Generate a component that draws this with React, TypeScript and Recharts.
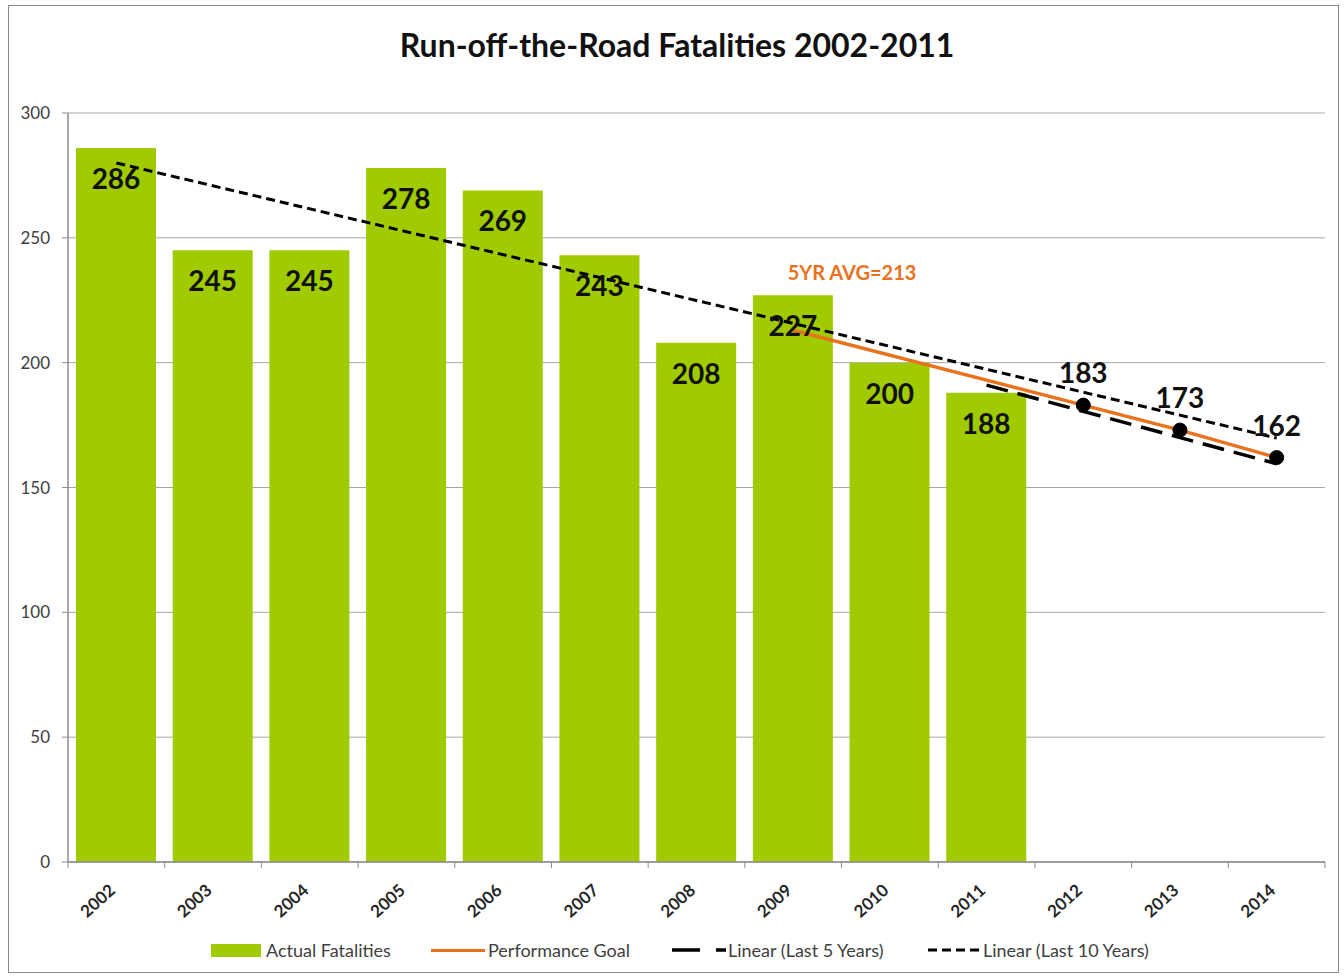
import React from 'react';
import { ComposedChart, Bar, Line, XAxis, YAxis, CartesianGrid, Legend, LabelList } from 'recharts';

const years = ['2002', '2003', '2004', '2005', '2006', '2007', '2008', '2009', '2010', '2011', '2012', '2013', '2014'];
const actualFatalities = [286, 245, 245, 278, 269, 243, 208, 227, 200, 188, null, null, null];
const performanceGoal = [null, null, null, null, null, null, null, 213, null, null, 183, 173, 162];
const goalMarkers = [null, null, null, null, null, null, null, null, null, null, 183, 173, 162];
const linearLast5 = [null, null, null, null, null, null, null, null, null, 191, 180.5, 170, 159.5];
const linearLast10 = [280, null, null, null, null, null, null, null, null, null, null, null, 169.8];
const yTicks = [0, 50, 100, 150, 200, 250, 300];

const data = years.map((year, i) => ({
  year,
  actual: actualFatalities[i],
  goal: performanceGoal[i],
  marker: goalMarkers[i],
  lin5: linearLast5[i],
  lin10: linearLast10[i],
}));

const W = 1344;
const H = 977;
const MARGIN = { top: 113, right: 19, left: 28, bottom: 12 };
const Y_AXIS_W = 40;
const PLOT_W = W - MARGIN.left - Y_AXIS_W - MARGIN.right;
const BAND = PLOT_W / years.length;
const FONT = 'Lato, "Open Sans", sans-serif';
const GREEN = '#9FCB00';
const ORANGE = '#E8731E';

const XTick = (props: any) => {
  const { x, y, payload, index } = props;
  const half = BAND / 2;
  return (
    <g>
      <line x1={x - half} x2={x - half} y1={y} y2={y + 6} stroke="#8c8c8c" strokeWidth={1} />
      {index === years.length - 1 && (
        <line x1={x + half} x2={x + half} y1={y} y2={y + 6} stroke="#8c8c8c" strokeWidth={1} />
      )}
      <text
        transform={`translate(${x},${y + 30}) rotate(-42)`}
        textAnchor="end"
        fontFamily={FONT}
        fontWeight={700}
        fontSize={17}
        fill="#262626"
      >
        {payload.value}
      </text>
    </g>
  );
};

const BarLabel = (props: any) => {
  const { x, y, width, value } = props;
  if (value == null) return null;
  return (
    <text
      x={Number(x) + Number(width) / 2}
      y={Number(y) + 30}
      textAnchor="middle"
      dominantBaseline="central"
      fontFamily={FONT}
      fontWeight={700}
      fontSize={28}
      fill="#111"
    >
      {value}
    </text>
  );
};

const MarkerLabel = (props: any) => {
  const { x, y, value } = props;
  if (value == null) return null;
  return (
    <text
      x={Number(x)}
      y={Number(y) - 33}
      textAnchor="middle"
      dominantBaseline="central"
      fontFamily={FONT}
      fontWeight={700}
      fontSize={28}
      fill="#111"
    >
      {value}
    </text>
  );
};

const legendText: React.CSSProperties = {
  position: 'absolute',
  top: 15,
  transform: 'translateY(-50%)',
  fontFamily: FONT,
  fontSize: 18,
  color: '#404040',
  whiteSpace: 'nowrap',
};

const LegendContent = () => (
  <div style={{ position: 'relative', width: W, height: 30 }}>
    <div style={{ position: 'absolute', left: 211, top: 9, width: 50, height: 13, background: GREEN }} />
    <div style={{ ...legendText, left: 266 }}>Actual Fatalities</div>
    <div style={{ position: 'absolute', left: 431, top: 14, width: 54, height: 3, background: ORANGE }} />
    <div style={{ ...legendText, left: 488 }}>Performance Goal</div>
    <svg style={{ position: 'absolute', left: 672, top: 10 }} width={54} height={10}>
      <line x1={0} x2={54} y1={5} y2={5} stroke="#000" strokeWidth={3.5} strokeDasharray="28 16" />
    </svg>
    <div style={{ ...legendText, left: 728 }}>Linear (Last 5 Years)</div>
    <svg style={{ position: 'absolute', left: 928, top: 10 }} width={54} height={10}>
      <line x1={0} x2={54} y1={5} y2={5} stroke="#000" strokeWidth={3} strokeDasharray="9 5" />
    </svg>
    <div style={{ ...legendText, left: 983 }}>Linear (Last 10 Years)</div>
  </div>
);

export default function App() {
  return (
    <div style={{ position: 'absolute', left: 0, top: 0, width: W, height: H, background: '#fff' }}>
      <div
        style={{
          position: 'absolute',
          left: 8,
          top: 5,
          width: 1331,
          height: 968,
          border: '1.5px solid #8a8a8a',
          boxSizing: 'border-box',
        }}
      />
      <ComposedChart width={W} height={H} data={data} margin={MARGIN}>
        <CartesianGrid vertical={false} stroke="#a6a6a6" strokeWidth={1} />
        <XAxis
          dataKey="year"
          interval={0}
          height={73}
          tickSize={0}
          tickMargin={0}
          tick={<XTick />}
          axisLine={{ stroke: '#8c8c8c', strokeWidth: 1.5 }}
        />
        <YAxis
          width={Y_AXIS_W}
          domain={[0, 300]}
          ticks={yTicks}
          interval={0}
          tickSize={6}
          tickMargin={12}
          tickLine={{ stroke: '#8c8c8c' }}
          axisLine={{ stroke: '#8c8c8c', strokeWidth: 1.5 }}
          tick={{ fontFamily: FONT, fontSize: 17, fill: '#404040' }}
        />
        <Legend verticalAlign="bottom" align="left" wrapperStyle={{ left: 0, width: W }} content={<LegendContent />} />
        <Bar dataKey="actual" fill={GREEN} barSize={80} isAnimationActive={false} name="Actual Fatalities">
          <LabelList dataKey="actual" content={<BarLabel />} />
        </Bar>
        <Line
          dataKey="lin10"
          stroke="#000"
          strokeWidth={3}
          strokeDasharray="9 5"
          dot={false}
          connectNulls
          isAnimationActive={false}
          name="Linear (Last 10 Years)"
        />
        <Line
          dataKey="lin5"
          stroke="#000"
          strokeWidth={3.5}
          strokeDasharray="22 10"
          dot={false}
          connectNulls
          isAnimationActive={false}
          name="Linear (Last 5 Years)"
        />
        <Line
          dataKey="goal"
          stroke={ORANGE}
          strokeWidth={3.5}
          dot={false}
          connectNulls
          isAnimationActive={false}
          name="Performance Goal"
        />
        <Line
          dataKey="marker"
          stroke="none"
          dot={{ r: 7, fill: '#000', stroke: '#000' }}
          activeDot={false}
          isAnimationActive={false}
          legendType="none"
        >
          <LabelList dataKey="marker" content={<MarkerLabel />} />
        </Line>
      </ComposedChart>
      <div
        style={{
          position: 'absolute',
          left: 677,
          top: 44,
          transform: 'translate(-50%, -50%)',
          fontFamily: FONT,
          fontWeight: 700,
          fontSize: 32,
          color: '#111',
          whiteSpace: 'nowrap',
        }}
      >
        Run-off-the-Road Fatalities 2002-2011
      </div>
      <div
        style={{
          position: 'absolute',
          left: 852,
          top: 272,
          transform: 'translate(-50%, -50%)',
          fontFamily: FONT,
          fontWeight: 700,
          fontSize: 20,
          color: ORANGE,
          whiteSpace: 'nowrap',
        }}
      >
        5YR AVG=213
      </div>
    </div>
  );
}
